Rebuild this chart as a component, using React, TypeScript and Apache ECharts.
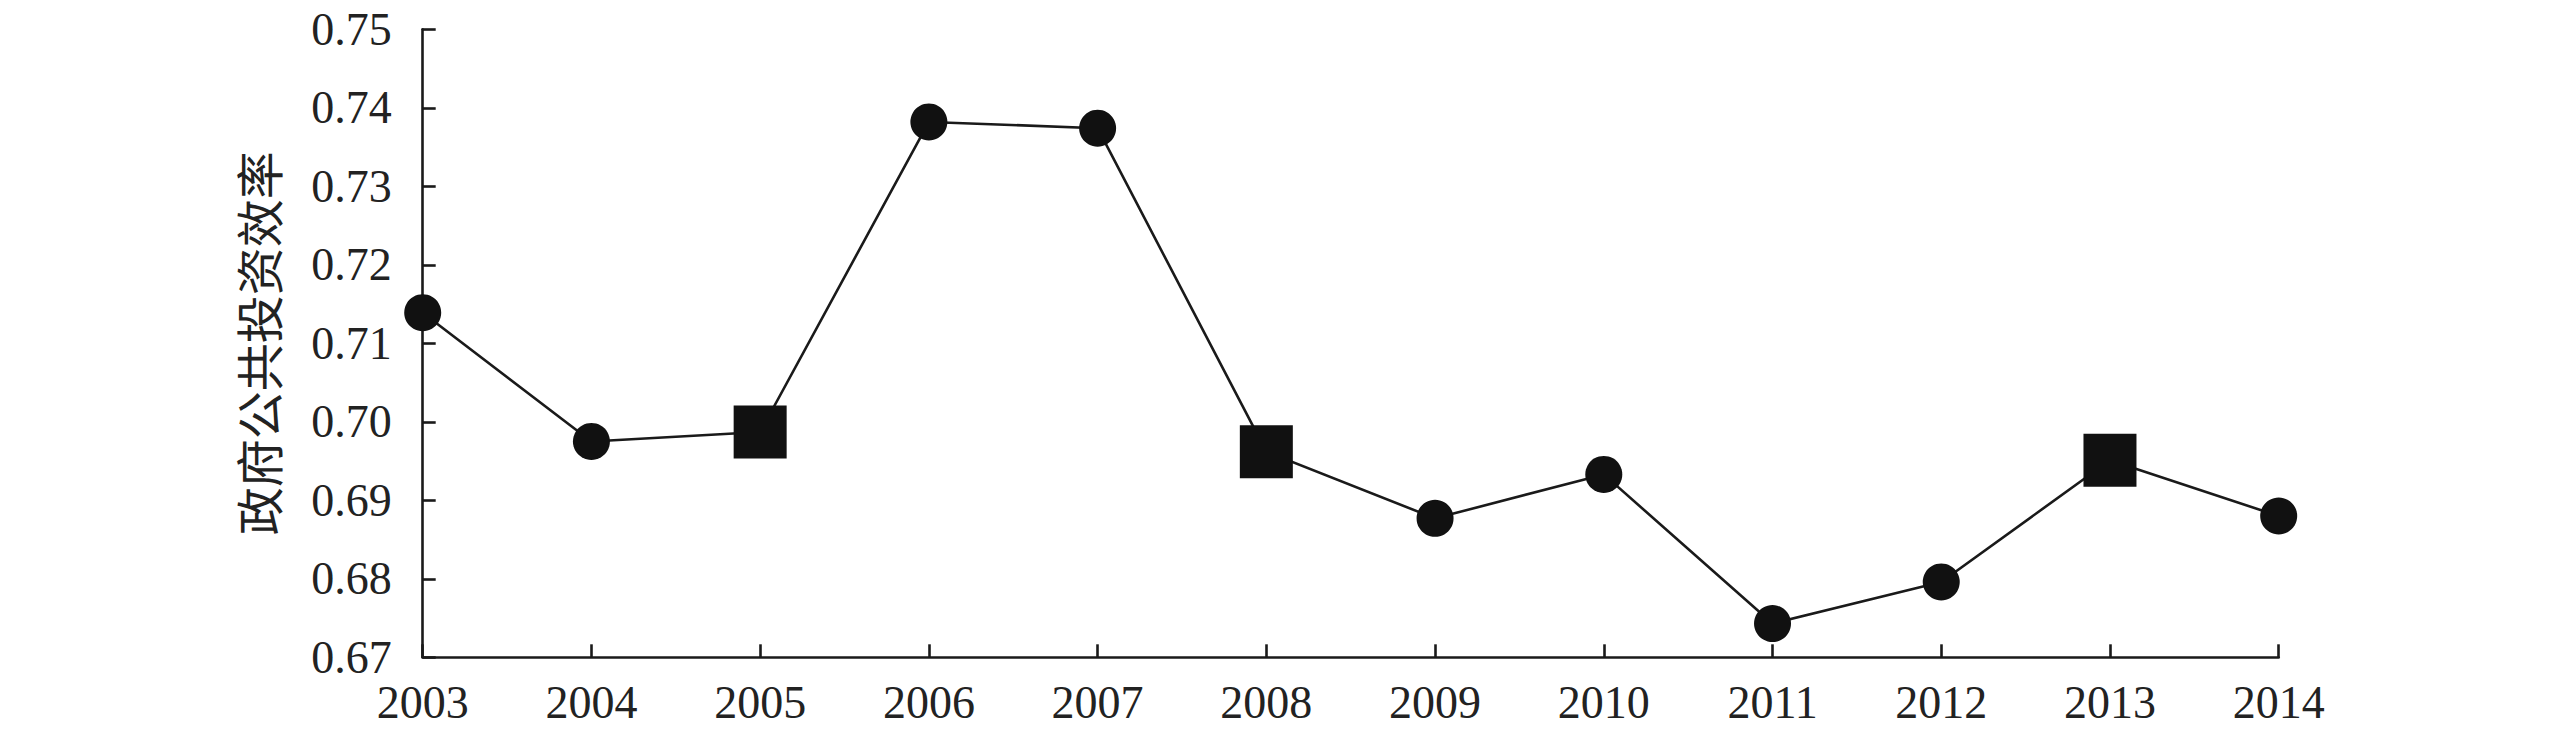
import React, { useEffect, useRef } from "react";
import * as echarts from "echarts";

const years = ["2003", "2004", "2005", "2006", "2007", "2008", "2009", "2010", "2011", "2012", "2013", "2014"];
const efficiency = [0.7139, 0.6975, 0.6987, 0.7382, 0.7374, 0.6962, 0.6877, 0.6933, 0.6743, 0.6796, 0.6951, 0.688];
const markerShapes = ["circle", "circle", "rect", "circle", "circle", "rect", "circle", "circle", "circle", "circle", "rect", "circle"];
const yAxisName = "政府公共投资效率";
const yMin = 0.67;
const yMax = 0.75;
const yStep = 0.01;

export default function App() {
  const ref = useRef<HTMLDivElement>(null);
  useEffect(() => {
    if (!ref.current) return;
    const chart = echarts.init(ref.current, null, { renderer: "svg" });
    const ink = "#1a1a1a";
    const serif = "'Liberation Serif', 'Times New Roman', serif";
    chart.setOption({
      animation: false,
      backgroundColor: "#ffffff",
      grid: { left: 422.7, right: 280.3, top: 29.3, bottom: 80.7, containLabel: false },
      xAxis: {
        type: "category",
        data: years,
        boundaryGap: false,
        axisLine: { show: true, lineStyle: { color: ink, width: 2.6 } },
        axisTick: { show: true, inside: true, length: 13, lineStyle: { color: ink, width: 2.6 } },
        axisLabel: { color: "#222", fontSize: 46, fontFamily: serif, margin: 22 },
        splitLine: { show: false },
      },
      yAxis: {
        type: "value",
        min: yMin,
        max: yMax,
        interval: yStep,
        name: yAxisName,
        nameLocation: "middle",
        nameGap: 142,
        nameRotate: 90,
        nameTextStyle: { color: "#222", fontSize: 48, fontFamily: "'Noto Sans CJK SC', sans-serif" },
        axisLine: { show: true, lineStyle: { color: ink, width: 2.6 } },
        axisTick: { show: true, inside: true, length: 13, lineStyle: { color: ink, width: 2.6 } },
        axisLabel: {
          color: "#222",
          fontSize: 46,
          fontFamily: serif,
          margin: 31,
          formatter: (v: number) => v.toFixed(2),
        },
        splitLine: { show: false },
      },
      series: [
        {
          type: "line",
          data: efficiency.map((v, i) => ({
            value: v,
            symbol: markerShapes[i],
            symbolSize: markerShapes[i] === "rect" ? 53 : 37,
          })),
          lineStyle: { color: ink, width: 2.6 },
          itemStyle: { color: "#111111", borderWidth: 0 },
          showAllSymbol: true,
          z: 3,
        },
      ],
    });
    return () => chart.dispose();
  }, []);
  return (
    <div
      ref={ref}
      style={{ position: "fixed", left: 0, top: 0, width: 2559, height: 738, background: "#fff" }}
    />
  );
}
